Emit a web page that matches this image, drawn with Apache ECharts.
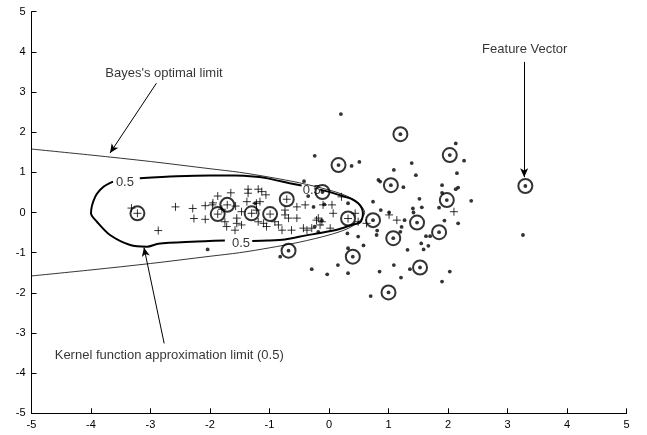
<!DOCTYPE html>
<html>
<head>
<meta charset="utf-8">
<script src="https://cdn.jsdelivr.net/npm/echarts@6/dist/echarts.min.js"></script>
<style>html,body{margin:0;padding:0;background:#fff;}#c{width:647px;height:435px;}</style>
</head>
<body>
<div id="c"></div>
<script>
// ---- data ----
var xTicks = [-5,-4,-3,-2,-1,0,1,2,3,4,5];
var yTicks = [-5,-4,-3,-2,-1,0,1,2,3,4,5];

// class 1 samples (+)
var plusPts = [[-3.32,0.11],[-2.58,0.14],[-2.87,-0.45],[-2.29,0.10],[-2.27,-0.15],[-2.08,0.17],[-2.08,-0.17],
  [-1.96,0.19],[-1.87,0.41],[-1.65,0.49],[-1.80,0.08],[-1.75,-0.23],[-1.72,-0.35],[-1.58,-0.44],[-1.55,-0.14],
  [-1.47,0.02],[-1.36,0.58],[-1.36,0.48],[-1.38,0.27],[-1.22,0.23],[-1.19,0.58],[-1.13,0.52],[-1.06,0.44],
  [-1.16,0.27],[-1.22,0.06],[-1.47,-0.31],[-1.19,-0.23],[-1.10,-0.27],[-1.05,-0.35],[-0.91,-0.23],[-0.85,-0.31],
  [-0.79,-0.44],[-0.63,-0.44],[-0.74,0.06],[-0.74,-0.06],[-0.68,-0.14],[-0.54,0.14],[-0.54,-0.14],[-0.40,0.19],
  [-0.43,-0.39],[-0.37,-0.44],[-0.29,-0.39],[-0.21,-0.19],[-0.12,-0.23],[-0.15,-0.31],[-0.10,0.19],[0.05,0.19],
  [0.07,-0.02],[0.02,-0.39],[0.21,0.39],[0.44,-0.02],[0.49,-0.23],[-0.18,-0.14],[1.01,-0.06],[1.14,-0.19],
  [2.10,0.02],[-1.57,0.16],[-1.95,0.24],[0.63,-0.27],[-1.55,-0.27]];

// class 2 samples (.)
var dotPts = [[0.20,2.45],[-0.24,1.41],[0.38,1.16],[0.51,1.26],[-0.42,0.78],[-0.35,0.41],[-0.26,0.14],[-0.08,0.20],
  [-0.24,-0.35],[-0.18,-0.48],[-0.12,-0.20],[-1.24,0.23],[-2.04,-0.92],[-0.82,-1.10],[0.83,0.81],[0.86,0.77],
  [0.74,0.27],[0.87,0.06],[0.32,0.23],[0.31,-0.52],[0.49,-0.60],[0.58,-0.82],[0.32,-0.89],[0.81,-0.45],[0.80,-0.56],
  [-0.29,-1.41],[-0.03,-1.54],[0.15,-1.31],[0.32,-1.51],[0.85,-1.47],[0.70,-2.08],[1.09,1.06],[1.39,1.23],[1.46,0.93],
  [1.25,0.63],[1.01,0.00],[1.27,-0.19],[1.22,-0.36],[1.20,-0.48],[1.41,0.10],[1.42,0.00],[1.56,0.13],[1.52,0.34],
  [1.85,0.12],[1.90,0.68],[1.90,0.49],[2.13,0.58],[2.17,0.62],[2.13,1.72],[2.27,1.29],[2.15,0.98],[2.39,0.29],
  [2.17,-0.27],[1.94,-0.20],[1.63,-0.59],[1.70,-0.59],[1.55,-0.77],[1.67,-0.83],[1.59,-0.92],[1.32,-0.93],
  [1.09,-1.31],[1.36,-1.41],[1.21,-1.62],[2.03,-1.47],[1.90,-1.72],[3.26,-0.56]];

// circled samples (support vectors)
var svPlus = [[-3.22,-0.02],[-1.87,-0.04],[-1.71,0.19],[-1.30,-0.02],[-0.99,-0.04],[-0.71,0.33],[0.32,-0.15]];
var svDot = [[-0.11,0.51],[0.74,-0.19],[-0.68,-0.95],[0.40,-1.10],[0.16,1.18],[1.20,1.95],[2.03,1.43],[1.04,0.68],
  [1.98,0.31],[1.48,-0.25],[1.85,-0.49],[1.08,-0.64],[1.53,-1.37],[1.00,-1.99]];
var featureVector = [[3.30,0.66]];

// Bayes optimal boundary
var bayesCurve = [[-5,1.58],[-4,1.43],[-3,1.27],[-2,1.09],[-1.5,1.0],[-1,0.88],[-0.5,0.74],[0,0.56],[0.3,0.41],
  [0.5,0.23],[0.6,0],[0.5,-0.23],[0.3,-0.41],[0,-0.56],[-0.5,-0.74],[-1,-0.88],[-1.5,-1.0],[-2,-1.09],[-3,-1.27],
  [-4,-1.43],[-5,-1.58]];

// kernel approximation contour (level 0.5), split at the contour labels
var kernelTop = [[-3.18,0.85],[-2.56,0.90],[-2.0,0.92],[-1.58,0.92],[-1.22,0.89],[-1.03,0.85],[-0.88,0.80],
  [-0.66,0.73],[-0.46,0.67]];
var kernelRight = [[-0.15,0.57],[-0.01,0.52],[0.27,0.39],[0.39,0.33],[0.49,0.23],[0.55,0.11],[0.57,-0.02],
  [0.52,-0.25],[0.40,-0.30],[0.18,-0.41],[-0.15,-0.51],[-0.38,-0.57],[-0.74,-0.67],[-1.03,-0.70],[-1.29,-0.71]];
var kernelLeft = [[-1.75,-0.70],[-2.31,-0.73],[-2.87,-0.78],[-3.06,-0.85],[-3.34,-0.81],[-3.68,-0.56],[-3.90,-0.23],
  [-4.0,-0.02],[-3.93,0.39],[-3.79,0.64],[-3.63,0.77]];
var contourLabels = [[-3.43,0.76],[-0.29,0.56],[-1.48,-0.76]];

// annotations
var annoTexts = [
  {name:"Bayes's optimal limit", value:[-3.76,3.47]},
  {name:"Kernel function approximation limit (0.5)", value:[-4.61,-3.57]}
];
var fvText = [{name:"Feature Vector", value:[3.29,4.05]}];
var arrows = [
  [[-2.90,3.22],[-3.68,1.48]],
  [[-2.77,-3.26],[-3.11,-0.87]],
  [[3.28,3.75],[3.28,0.88]]
];

// ---- chart ----
var FONT = '"Liberation Sans", Arial, sans-serif';
var chart = echarts.init(document.getElementById('c'), null, {renderer:'canvas'});

function axis(ticks){
  return {
    type:'value', min:ticks[0], max:ticks[ticks.length-1], interval:1,
    axisLine:{show:true, onZero:false, lineStyle:{color:'#000', width:1}},
    axisTick:{show:true, inside:true, length:5, lineStyle:{color:'#000', width:1}},
    axisLabel:{show:true, color:'#000', fontFamily:FONT, fontSize:11, margin:6},
    splitLine:{show:false}
  };
}

var plusSymbol = 'path://M0,5L10,5M5,0L5,10';
function lineSeries(data, w){
  return {type:'line', data:data, symbol:'none', smooth:0.3, silent:true, animation:false,
    lineStyle:{color:'#000', width:w}, z:2};
}

chart.setOption({
  animation:false,
  backgroundColor:'#fff',
  grid:{left:31.5, right:20.5, top:11.7, bottom:21.7, containLabel:false, outerBoundsMode:'none'},
  xAxis:axis(xTicks),
  yAxis:axis(yTicks),
  series:[
    lineSeries(bayesCurve, 0.8),
    lineSeries(kernelTop, 2),
    lineSeries(kernelRight, 2),
    lineSeries(kernelLeft, 2),
    {type:'scatter', data:plusPts.concat(svPlus), symbol:plusSymbol, symbolSize:8, silent:true,
      itemStyle:{color:'none', borderColor:'#000', borderWidth:1}, z:3},
    {type:'scatter', data:dotPts.concat(svDot, featureVector), symbol:'circle', symbolSize:3.8, silent:true,
      itemStyle:{color:'#000'}, z:3},
    {type:'scatter', data:svPlus.concat(svDot, featureVector), symbol:'circle', symbolSize:14, silent:true,
      itemStyle:{color:'rgba(0,0,0,0)', borderColor:'#000', borderWidth:2}, z:4},
    {type:'scatter', data:contourLabels, symbolSize:0, silent:true, z:5,
      label:{show:true, position:'inside', formatter:'0.5', color:'#000', fontFamily:FONT, fontSize:13}},
    {type:'scatter', data:annoTexts, symbolSize:0, silent:true, z:5,
      label:{show:true, position:'right', distance:0, formatter:'{b}', color:'#000', fontFamily:FONT, fontSize:13},
      markLine:{silent:true, animation:false, symbol:['none','arrow'], symbolSize:[6,9],
        label:{show:false}, lineStyle:{color:'#000', width:1, type:'solid'},
        data:arrows.map(function(a){return [{coord:a[0]},{coord:a[1]}];})}},
    {type:'scatter', data:fvText, symbolSize:0, silent:true, z:5,
      label:{show:true, position:'inside', formatter:'{b}', color:'#000', fontFamily:FONT, fontSize:13}}
  ]
});
</script>
</body>
</html>
